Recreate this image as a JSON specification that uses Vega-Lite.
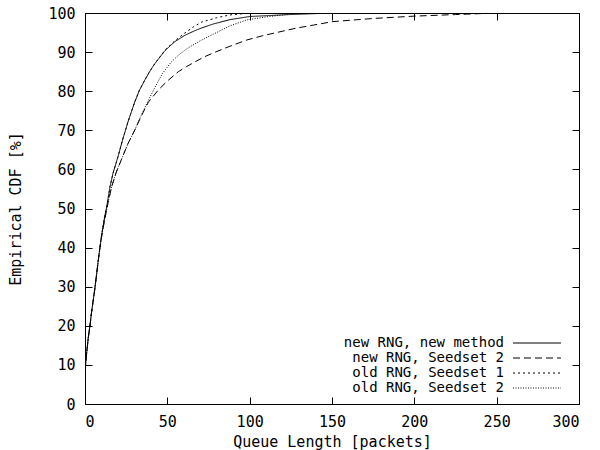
{
  "$schema": "https://vega.github.io/schema/vega-lite/v6.json",
  "autosize": "none",
  "width": 494,
  "height": 391,
  "padding": {"left": 85, "top": 13, "right": 21, "bottom": 46},
  "config": {
    "view": {"stroke": "black", "strokeWidth": 1},
    "font": "DejaVu Sans Mono",
    "axis": {"grid": false, "domainColor": "black", "tickColor": "black", "labelColor": "black", "titleColor": "black", "labelFont": "DejaVu Sans Mono", "titleFont": "DejaVu Sans Mono", "labelFontSize": 15, "titleFontSize": 15, "titleFontWeight": "normal", "tickSize": -7}
  },
  "data": {"values": [
    {"s": "new RNG, new method", "x": 0, "y": 8.5}, {"s": "new RNG, new method", "x": 1, "y": 13}, {"s": "new RNG, new method", "x": 2, "y": 17}, {"s": "new RNG, new method", "x": 3, "y": 20}, {"s": "new RNG, new method", "x": 4, "y": 23.5}, {"s": "new RNG, new method", "x": 5, "y": 26.5}, {"s": "new RNG, new method", "x": 6, "y": 29.6}, {"s": "new RNG, new method", "x": 7, "y": 33}, {"s": "new RNG, new method", "x": 8, "y": 36.5}, {"s": "new RNG, new method", "x": 9, "y": 39.8}, {"s": "new RNG, new method", "x": 10, "y": 43}, {"s": "new RNG, new method", "x": 11, "y": 45.5}, {"s": "new RNG, new method", "x": 12, "y": 48}, {"s": "new RNG, new method", "x": 13.2, "y": 50.5}, {"s": "new RNG, new method", "x": 15.2, "y": 55.6}, {"s": "new RNG, new method", "x": 17, "y": 59}, {"s": "new RNG, new method", "x": 20, "y": 63.2}, {"s": "new RNG, new method", "x": 23, "y": 67.8}, {"s": "new RNG, new method", "x": 26.3, "y": 72.4}, {"s": "new RNG, new method", "x": 30, "y": 77}, {"s": "new RNG, new method", "x": 33, "y": 80.2}, {"s": "new RNG, new method", "x": 36.4, "y": 82.9}, {"s": "new RNG, new method", "x": 39.5, "y": 85.2}, {"s": "new RNG, new method", "x": 42.5, "y": 87.1}, {"s": "new RNG, new method", "x": 48.6, "y": 90.4}, {"s": "new RNG, new method", "x": 54.6, "y": 92.7}, {"s": "new RNG, new method", "x": 60.7, "y": 94.3}, {"s": "new RNG, new method", "x": 66.8, "y": 95.5}, {"s": "new RNG, new method", "x": 71, "y": 96.2}, {"s": "new RNG, new method", "x": 78, "y": 97.2}, {"s": "new RNG, new method", "x": 88, "y": 98.3}, {"s": "new RNG, new method", "x": 100, "y": 99.1}, {"s": "new RNG, new method", "x": 124, "y": 99.6}, {"s": "new RNG, new method", "x": 150, "y": 100},

    {"s": "new RNG, Seedset 2", "x": 0, "y": 8.5}, {"s": "new RNG, Seedset 2", "x": 1, "y": 13}, {"s": "new RNG, Seedset 2", "x": 2, "y": 17}, {"s": "new RNG, Seedset 2", "x": 3, "y": 20}, {"s": "new RNG, Seedset 2", "x": 4, "y": 23.5}, {"s": "new RNG, Seedset 2", "x": 5, "y": 26.5}, {"s": "new RNG, Seedset 2", "x": 6, "y": 29.6}, {"s": "new RNG, Seedset 2", "x": 7, "y": 33}, {"s": "new RNG, Seedset 2", "x": 8, "y": 36.5}, {"s": "new RNG, Seedset 2", "x": 9, "y": 39.8}, {"s": "new RNG, Seedset 2", "x": 10, "y": 42.5}, {"s": "new RNG, Seedset 2", "x": 11, "y": 45}, {"s": "new RNG, Seedset 2", "x": 12, "y": 47.3}, {"s": "new RNG, Seedset 2", "x": 14, "y": 51.5}, {"s": "new RNG, Seedset 2", "x": 16.2, "y": 55.6}, {"s": "new RNG, Seedset 2", "x": 19, "y": 59.3}, {"s": "new RNG, Seedset 2", "x": 22.2, "y": 62.6}, {"s": "new RNG, Seedset 2", "x": 26, "y": 66.5}, {"s": "new RNG, Seedset 2", "x": 30.4, "y": 70.2}, {"s": "new RNG, Seedset 2", "x": 34, "y": 73.5}, {"s": "new RNG, Seedset 2", "x": 38.5, "y": 77.2}, {"s": "new RNG, Seedset 2", "x": 44.5, "y": 80.3}, {"s": "new RNG, Seedset 2", "x": 50, "y": 82.6}, {"s": "new RNG, Seedset 2", "x": 56.7, "y": 85}, {"s": "new RNG, Seedset 2", "x": 61.7, "y": 86.3}, {"s": "new RNG, Seedset 2", "x": 66.8, "y": 87.5}, {"s": "new RNG, Seedset 2", "x": 72, "y": 88.7}, {"s": "new RNG, Seedset 2", "x": 78, "y": 89.8}, {"s": "new RNG, Seedset 2", "x": 88, "y": 91.5}, {"s": "new RNG, Seedset 2", "x": 98.3, "y": 93.1}, {"s": "new RNG, Seedset 2", "x": 108, "y": 94.2}, {"s": "new RNG, Seedset 2", "x": 118.4, "y": 95.2}, {"s": "new RNG, Seedset 2", "x": 128, "y": 96.1}, {"s": "new RNG, Seedset 2", "x": 138.6, "y": 96.9}, {"s": "new RNG, Seedset 2", "x": 150.6, "y": 97.8}, {"s": "new RNG, Seedset 2", "x": 175, "y": 98.6}, {"s": "new RNG, Seedset 2", "x": 200, "y": 99.2}, {"s": "new RNG, Seedset 2", "x": 225, "y": 99.6}, {"s": "new RNG, Seedset 2", "x": 250, "y": 100},

    {"s": "old RNG, Seedset 1", "x": 0, "y": 8.5}, {"s": "old RNG, Seedset 1", "x": 1, "y": 13}, {"s": "old RNG, Seedset 1", "x": 2, "y": 17}, {"s": "old RNG, Seedset 1", "x": 3, "y": 20}, {"s": "old RNG, Seedset 1", "x": 4, "y": 23.5}, {"s": "old RNG, Seedset 1", "x": 5, "y": 26.5}, {"s": "old RNG, Seedset 1", "x": 6, "y": 29.6}, {"s": "old RNG, Seedset 1", "x": 7, "y": 33}, {"s": "old RNG, Seedset 1", "x": 8, "y": 36.5}, {"s": "old RNG, Seedset 1", "x": 9, "y": 39.8}, {"s": "old RNG, Seedset 1", "x": 10, "y": 43}, {"s": "old RNG, Seedset 1", "x": 11, "y": 45.5}, {"s": "old RNG, Seedset 1", "x": 12, "y": 48}, {"s": "old RNG, Seedset 1", "x": 13.2, "y": 50.5}, {"s": "old RNG, Seedset 1", "x": 15.2, "y": 55.6}, {"s": "old RNG, Seedset 1", "x": 17, "y": 59}, {"s": "old RNG, Seedset 1", "x": 20, "y": 63.2}, {"s": "old RNG, Seedset 1", "x": 23, "y": 67.8}, {"s": "old RNG, Seedset 1", "x": 26.3, "y": 72.4}, {"s": "old RNG, Seedset 1", "x": 30, "y": 77}, {"s": "old RNG, Seedset 1", "x": 33, "y": 80.2}, {"s": "old RNG, Seedset 1", "x": 36.4, "y": 82.9}, {"s": "old RNG, Seedset 1", "x": 39.5, "y": 85.2}, {"s": "old RNG, Seedset 1", "x": 42.5, "y": 87.1}, {"s": "old RNG, Seedset 1", "x": 48.6, "y": 90.5}, {"s": "old RNG, Seedset 1", "x": 54.6, "y": 92.9}, {"s": "old RNG, Seedset 1", "x": 60.7, "y": 94.9}, {"s": "old RNG, Seedset 1", "x": 66, "y": 96.5}, {"s": "old RNG, Seedset 1", "x": 71, "y": 97.7}, {"s": "old RNG, Seedset 1", "x": 80, "y": 98.8}, {"s": "old RNG, Seedset 1", "x": 88, "y": 99.5}, {"s": "old RNG, Seedset 1", "x": 100, "y": 100}, {"s": "old RNG, Seedset 1", "x": 120, "y": 100},

    {"s": "old RNG, Seedset 2", "x": 0, "y": 8.5}, {"s": "old RNG, Seedset 2", "x": 1, "y": 13}, {"s": "old RNG, Seedset 2", "x": 2, "y": 17}, {"s": "old RNG, Seedset 2", "x": 3, "y": 20}, {"s": "old RNG, Seedset 2", "x": 4, "y": 23.5}, {"s": "old RNG, Seedset 2", "x": 5, "y": 26.5}, {"s": "old RNG, Seedset 2", "x": 6, "y": 29.6}, {"s": "old RNG, Seedset 2", "x": 7, "y": 33}, {"s": "old RNG, Seedset 2", "x": 8, "y": 36.5}, {"s": "old RNG, Seedset 2", "x": 9, "y": 39.8}, {"s": "old RNG, Seedset 2", "x": 10, "y": 42.5}, {"s": "old RNG, Seedset 2", "x": 11, "y": 45}, {"s": "old RNG, Seedset 2", "x": 12, "y": 47.3}, {"s": "old RNG, Seedset 2", "x": 14, "y": 51.5}, {"s": "old RNG, Seedset 2", "x": 16.2, "y": 55.6}, {"s": "old RNG, Seedset 2", "x": 19, "y": 59.3}, {"s": "old RNG, Seedset 2", "x": 22.2, "y": 62.6}, {"s": "old RNG, Seedset 2", "x": 26, "y": 66.5}, {"s": "old RNG, Seedset 2", "x": 30.4, "y": 70.2}, {"s": "old RNG, Seedset 2", "x": 34, "y": 73.7}, {"s": "old RNG, Seedset 2", "x": 38.5, "y": 77.7}, {"s": "old RNG, Seedset 2", "x": 42.5, "y": 81}, {"s": "old RNG, Seedset 2", "x": 47, "y": 84.5}, {"s": "old RNG, Seedset 2", "x": 52, "y": 87.3}, {"s": "old RNG, Seedset 2", "x": 57, "y": 89.3}, {"s": "old RNG, Seedset 2", "x": 62, "y": 90.9}, {"s": "old RNG, Seedset 2", "x": 70, "y": 92.9}, {"s": "old RNG, Seedset 2", "x": 78, "y": 94.6}, {"s": "old RNG, Seedset 2", "x": 88, "y": 96.7}, {"s": "old RNG, Seedset 2", "x": 98, "y": 98.2}, {"s": "old RNG, Seedset 2", "x": 110, "y": 99}, {"s": "old RNG, Seedset 2", "x": 124, "y": 99.7}, {"s": "old RNG, Seedset 2", "x": 140, "y": 100}
  ]},
  "layer": [
    {
      "mark": {"type": "line", "color": "black", "strokeWidth": 1, "clip": true},
      "encoding": {
        "x": {"field": "x", "type": "quantitative", "scale": {"domain": [0, 300], "nice": false}, "axis": {"orient": "bottom", "title": "Queue Length [packets]", "values": [0, 50, 100, 150, 200, 250, 300], "labelPadding": 17, "titlePadding": 5, "domain": false}},
        "y": {"field": "y", "type": "quantitative", "scale": {"domain": [0, 100], "nice": false}, "axis": {"orient": "left", "title": "Empirical CDF [%]", "values": [0, 10, 20, 30, 40, 50, 60, 70, 80, 90, 100], "labelPadding": 17, "titlePadding": 24, "domain": false}},
        "strokeDash": {
          "field": "s", "type": "nominal",
          "scale": {"domain": ["new RNG, new method", "new RNG, Seedset 2", "old RNG, Seedset 1", "old RNG, Seedset 2"], "range": [[1, 0], [7, 4], [2, 3], [1, 1.5]]},
          "legend": {
            "title": null, "orient": "none", "legendX": 445, "legendY": 323,
            "symbolType": "M-4,0H4", "symbolSize": 144, "symbolStrokeWidth": 1, "symbolStrokeColor": "black",
            "labelFont": "DejaVu Sans Mono", "labelFontSize": 14, "labelColor": "black", "labelLimit": 400,
            "labelAlign": "right", "labelOffset": -40, "rowPadding": 1, "symbolOffset": 0
          }
        },
        "detail": {"field": "s"}
      }
    },
    {
      "mark": {"type": "line", "opacity": 0},
      "encoding": {
        "x": {"field": "x", "type": "quantitative", "axis": {"orient": "top", "labels": false, "title": null, "values": [0, 50, 100, 150, 200, 250, 300], "domain": false}},
        "y": {"field": "y", "type": "quantitative", "axis": {"orient": "right", "labels": false, "title": null, "values": [0, 10, 20, 30, 40, 50, 60, 70, 80, 90, 100], "domain": false}}
      }
    }
  ],
  "resolve": {"axis": {"x": "independent", "y": "independent"}}
}
